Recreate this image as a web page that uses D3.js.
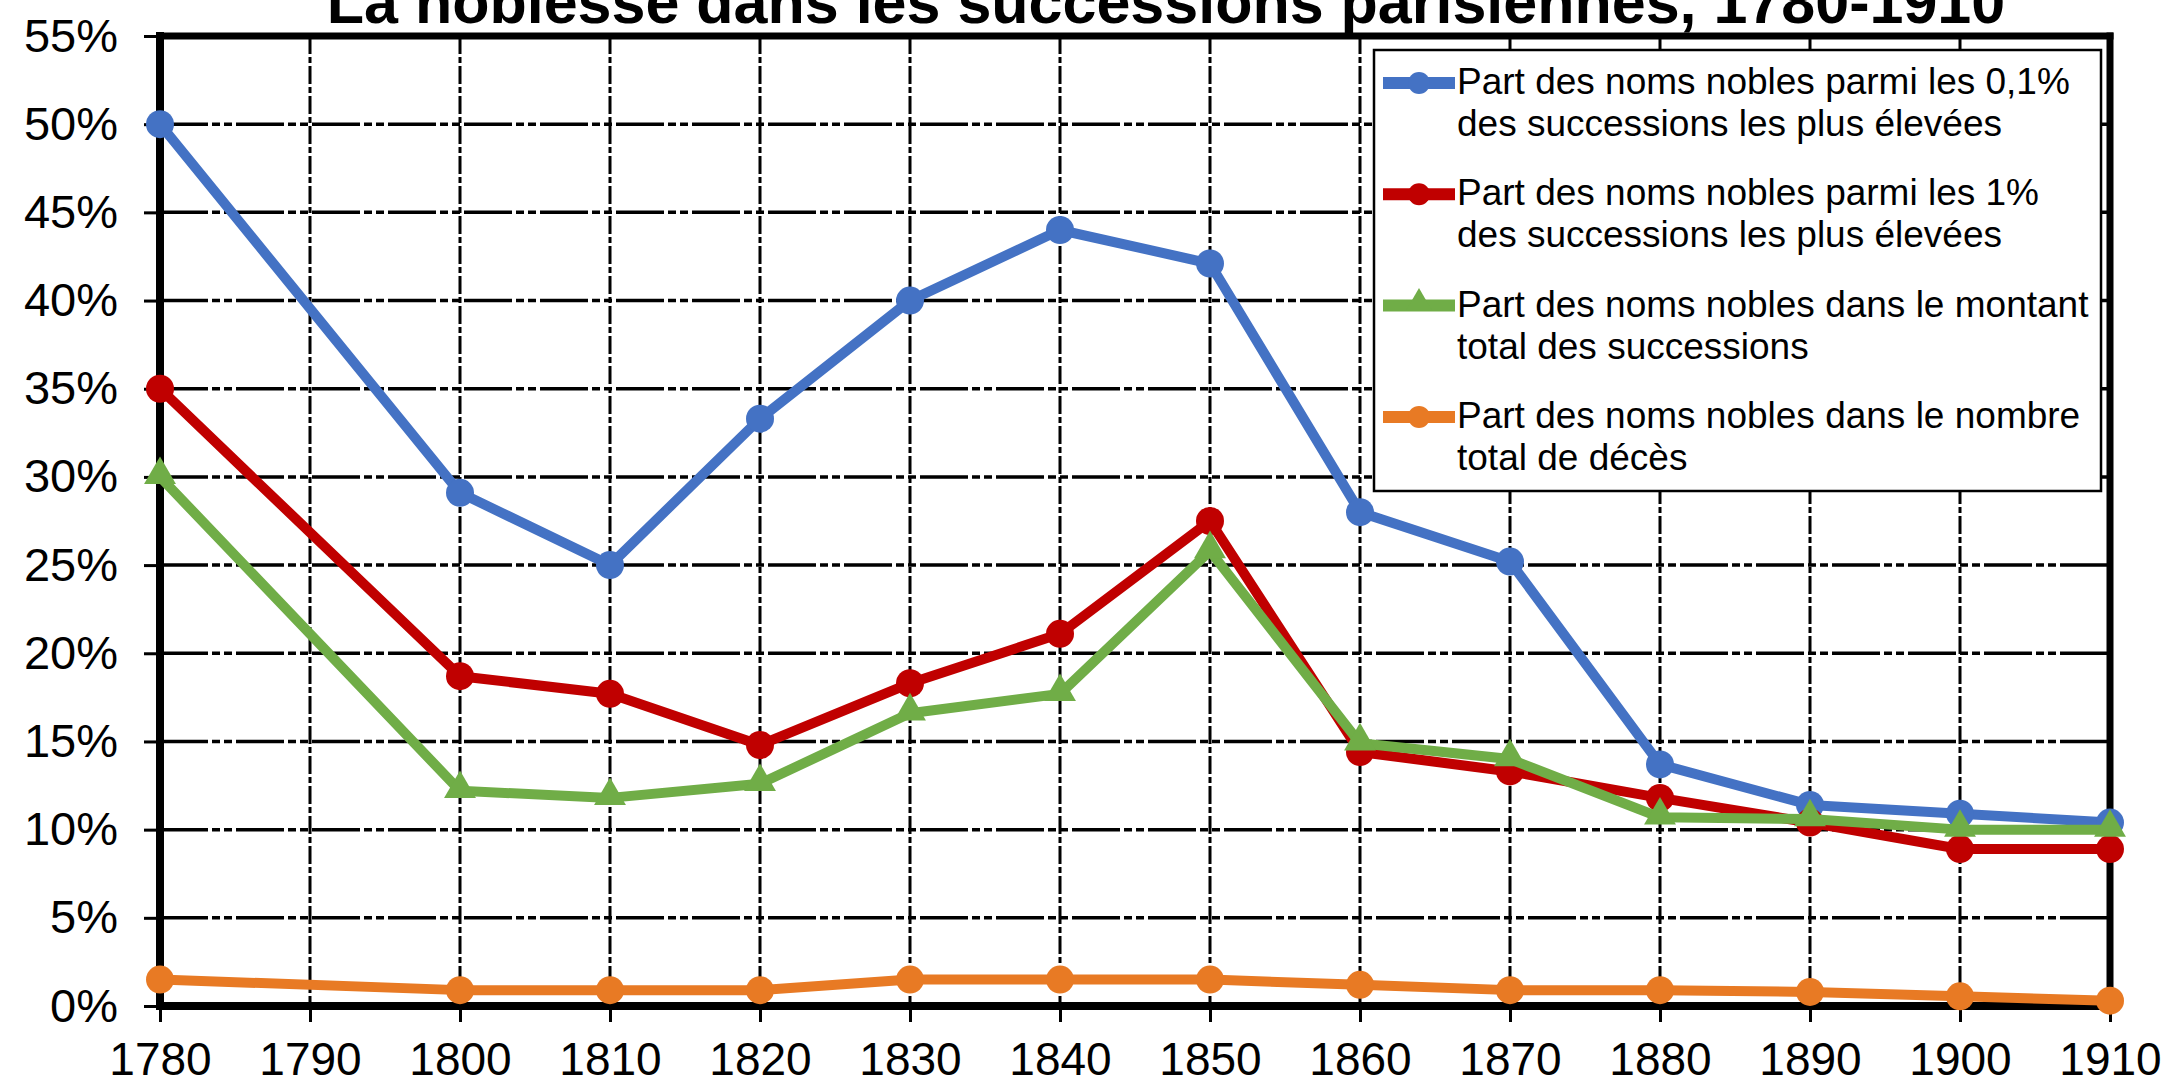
<!DOCTYPE html>
<html>
<head>
<meta charset="utf-8">
<script src="https://cdn.jsdelivr.net/npm/d3@7"></script>
<style>
  html, body { margin: 0; padding: 0; background: #ffffff; }
  svg { display: block; }
  text { font-family: Arial, "Liberation Sans", sans-serif; }
</style>
</head>
<body>
<svg id="chart" width="2170" height="1086"></svg>
<script>
// ---- data ----
const titleText = "La noblesse dans les successions parisiennes, 1780-1910";
const years = [1780, 1790, 1800, 1810, 1820, 1830, 1840, 1850, 1860, 1870, 1880, 1890, 1900, 1910];
const yTicks = [0, 0.05, 0.10, 0.15, 0.20, 0.25, 0.30, 0.35, 0.40, 0.45, 0.50, 0.55];

const top01 =   [50.0, null, 29.1, 25.0, 33.3, 40.0, 44.0, 42.1, 28.0, 25.2, 13.7, 11.4, 10.9, 10.4];
const top1 =    [35.0, null, 18.7, 17.7, 14.8, 18.3, 21.1, 27.5, 14.4, 13.3, 11.8, 10.4, 8.9, 8.9];
const montant = [30.0, null, 12.2, 11.8, 12.6, 16.6, 17.7, 25.8, 14.9, 14.0, 10.7, 10.6, 10.0, 10.0];
const deces =   [1.5, null, 0.9, 0.9, 0.9, 1.5, 1.5, 1.5, 1.2, 0.9, 0.9, 0.8, 0.55, 0.3];

const seriesNames = [
  ["Part des noms nobles parmi les 0,1%", "des successions les plus élevées"],
  ["Part des noms nobles parmi les 1%", "des successions les plus élevées"],
  ["Part des noms nobles dans le montant", "total des successions"],
  ["Part des noms nobles dans le nombre", "total de décès"]
];
const seriesValues = [top01, top1, montant, deces];
const seriesColors = ["#4472C4", "#C00000", "#70AD47", "#E87A24"];
const seriesMarkers = ["circle", "circle", "triangle", "circle"];

// ---- layout ----
const svg = d3.select("#chart");
const L = 160, R = 2110, T = 36, B = 1006;

const x = d3.scaleLinear().domain([1780, 1910]).range([L, R]);
const y = d3.scaleLinear().domain([0, 0.55]).range([B, T]);

// gridlines
const grid = svg.append("g");
grid.selectAll("line.h").data(yTicks.filter(d => d > 0 && d < 0.55)).join("line")
  .attr("x1", L).attr("x2", R)
  .attr("y1", d => y(d)).attr("y2", d => y(d))
  .attr("stroke", "#000").attr("stroke-width", 3.5)
  .attr("stroke-dasharray", "48,4,8,4,8,4");
grid.selectAll("line.v").data(years.filter(d => d > 1780 && d < 1910)).join("line")
  .attr("x1", d => x(d)).attr("x2", d => x(d))
  .attr("y1", T).attr("y2", B)
  .attr("stroke", "#000").attr("stroke-width", 3)
  .attr("stroke-dasharray", "18,3,6,3");

// axes
const yAxis = svg.append("g").attr("transform", `translate(${L},0)`)
  .call(d3.axisLeft(y).tickValues(yTicks).tickSize(16).tickPadding(26)
    .tickFormat(d => Math.round(d * 100) + "%"));
yAxis.select(".domain").remove();
yAxis.selectAll(".tick line").attr("stroke", "#000").attr("stroke-width", 3);
yAxis.selectAll(".tick text").attr("font-size", 47).attr("fill", "#000")
  .attr("font-family", "Arial, 'Liberation Sans', sans-serif");

const xAxis = svg.append("g").attr("transform", `translate(0,${B})`)
  .call(d3.axisBottom(x).tickValues(years).tickSize(16).tickPadding(20)
    .tickFormat(d3.format("d")));
xAxis.select(".domain").remove();
xAxis.selectAll(".tick line").attr("stroke", "#000").attr("stroke-width", 3);
xAxis.selectAll(".tick text").attr("font-size", 46).attr("fill", "#000")
  .attr("font-family", "Arial, 'Liberation Sans', sans-serif");

// frame
const frame = svg.append("g").attr("stroke", "#000").attr("stroke-linecap", "square");
frame.append("line").attr("x1", L).attr("x2", R).attr("y1", T).attr("y2", T).attr("stroke-width", 7);
frame.append("line").attr("x1", R).attr("x2", R).attr("y1", T).attr("y2", B).attr("stroke-width", 7);
frame.append("line").attr("x1", L).attr("x2", L).attr("y1", T).attr("y2", B).attr("stroke-width", 8);
frame.append("line").attr("x1", L).attr("x2", R).attr("y1", B).attr("y2", B).attr("stroke-width", 8);

// series
const line = d3.line().x(d => x(d.year)).y(d => y(d.v / 100));
const triangle = d3.symbol().type(d3.symbolTriangle).size(440);

seriesValues.forEach((vals, i) => {
  const pts = years.map((yr, j) => ({ year: yr, v: vals[j] })).filter(d => d.v !== null);
  const g = svg.append("g");
  g.append("path").datum(pts).attr("d", line)
    .attr("fill", "none").attr("stroke", seriesColors[i]).attr("stroke-width", 10)
    .attr("stroke-linejoin", "round");
  if (seriesMarkers[i] === "circle") {
    g.selectAll("circle").data(pts).join("circle")
      .attr("cx", d => x(d.year)).attr("cy", d => y(d.v / 100)).attr("r", 14)
      .attr("fill", seriesColors[i]);
  } else {
    g.selectAll("path.m").data(pts).join("path").attr("class", "m")
      .attr("d", triangle)
      .attr("transform", d => `translate(${x(d.year)},${y(d.v / 100) - 2})`)
      .attr("fill", seriesColors[i]);
  }
});

// title
svg.append("text").attr("x", 1166).attr("y", 23).attr("text-anchor", "middle")
  .attr("font-size", 61).attr("font-weight", "bold").attr("fill", "#000")
  .text(titleText);

// legend
const lg = svg.append("g");
lg.append("rect").attr("x", 1374).attr("y", 50).attr("width", 727).attr("height", 441)
  .attr("fill", "#fff").attr("stroke", "#000").attr("stroke-width", 2.5);
seriesNames.forEach((lines, i) => {
  const cy = 83 + i * 111.3;
  lg.append("line").attr("x1", 1383).attr("x2", 1455).attr("y1", cy).attr("y2", cy)
    .attr("stroke", seriesColors[i]).attr("stroke-width", 12);
  if (seriesMarkers[i] === "circle") {
    lg.append("circle").attr("cx", 1419).attr("cy", cy).attr("r", 11).attr("fill", seriesColors[i]);
  } else {
    lg.append("path").attr("d", d3.symbol().type(d3.symbolTriangle).size(280))
      .attr("transform", `translate(1419,${cy - 3})`).attr("fill", seriesColors[i]);
  }
  lines.forEach((t, k) => {
    lg.append("text").attr("x", 1457).attr("y", cy + 11 + k * 42)
      .attr("font-size", 37).attr("fill", "#000").text(t);
  });
});
</script>
</body>
</html>
